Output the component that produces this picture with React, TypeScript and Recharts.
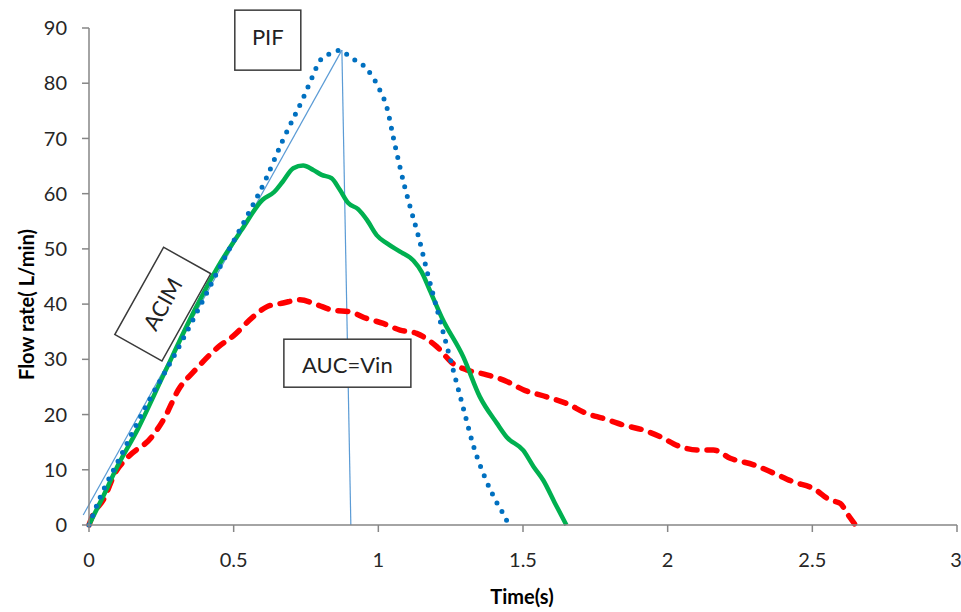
import { LineChart, Line, XAxis, YAxis, ReferenceLine, ReferenceDot } from "recharts";

// blue dotted curve
const blueT = [0, 0.04, 0.1, 0.2, 0.3, 0.4, 0.47, 0.54, 0.61, 0.67, 0.74, 0.77, 0.8, 0.84, 0.87, 0.9, 0.96, 1.0, 1.03, 1.055, 1.09, 1.11, 1.14, 1.17, 1.21, 1.25, 1.29, 1.33, 1.37, 1.41, 1.44, 1.45];
const blueFlow = [0, 5.2, 11.5, 21.8, 31.2, 41.3, 48.5, 55.3, 62.5, 69.7, 77.3, 80.9, 84.2, 85.5, 86, 84.8, 82.6, 79.3, 75.5, 69.4, 61.5, 57.6, 52, 45.6, 37.7, 29.8, 21.9, 14.1, 8.4, 4, 1.2, 0];

// green solid curve
const greenT = [0, 0.05, 0.1, 0.17, 0.256, 0.366, 0.446, 0.527, 0.6, 0.64, 0.67, 0.706, 0.74, 0.775, 0.804, 0.838, 0.867, 0.896, 0.93, 0.96, 0.994, 1.03, 1.075, 1.121, 1.15, 1.178, 1.22, 1.294, 1.351, 1.41, 1.444, 1.501, 1.536, 1.57, 1.61, 1.65];
const greenFlow = [0, 5.3, 10.8, 17.5, 27, 39, 46.8, 53.4, 58.9, 60.3, 62.2, 64.6, 65.1, 64.3, 63.4, 62.8, 60.7, 58.3, 57.2, 55.3, 52.5, 51, 49.5, 47.9, 45.8, 42.5, 37.5, 30.4, 23.2, 18.4, 15.9, 13.5, 10.6, 8.1, 4, 0];

// red dashed curve
const redT = [0, 0.01, 0.054, 0.089, 0.135, 0.216, 0.262, 0.308, 0.366, 0.446, 0.5, 0.567, 0.614, 0.671, 0.729, 0.787, 0.844, 0.902, 0.96, 1.017, 1.075, 1.132, 1.202, 1.259, 1.305, 1.375, 1.444, 1.501, 1.582, 1.651, 1.72, 1.778, 1.847, 1.916, 1.974, 2.043, 2.101, 2.158, 2.216, 2.297, 2.366, 2.435, 2.504, 2.562, 2.597, 2.62, 2.649];
const redFlow = [0, 1.4, 5, 9.3, 12.3, 15.9, 19.5, 24.4, 28, 32.2, 34.3, 37.7, 39.5, 40.2, 40.8, 39.9, 38.9, 38.6, 37.4, 36.5, 35.3, 34.7, 32.3, 29.2, 28.1, 27.2, 26, 24.5, 23.2, 22, 20.2, 19.3, 18.1, 17.2, 16, 14.2, 13.6, 13.6, 12.1, 10.9, 9.4, 7.8, 6.6, 4.5, 3.9, 2.1, 0];

// thin construction lines (ACIM slope, PIF drop)
const guideT = [-0.02, 0.874, 0.905];
const guideFlow = [1.8, 86, 0];

const xTicks = [0, 0.5, 1, 1.5, 2, 2.5, 3];
const yTicks = [0, 10, 20, 30, 40, 50, 60, 70, 80, 90];

const notes = [
  { text: "PIF", t: 0.618, flow: 87.8, w: 66, h: 60, angle: 0, dy: -3 },
  { text: "ACIM", t: 0.255, flow: 40.0, w: 100, h: 54, angle: -60.8, dy: 0 },
  { text: "AUC=Vin", t: 0.893, flow: 29.3, w: 127, h: 48, angle: 0, dy: 2 },
];

const toRows = (ts: number[], vs: number[]) => ts.map((t, i) => ({ t, flow: vs[i] }));

const FONT = "Lato, 'Open Sans', sans-serif";
const AXIS = "#868686";

const noteBox = (n: (typeof notes)[number]) => (props: any) => {
  const { cx, cy } = props;
  return (
    <g transform={`translate(${cx},${cy}) rotate(${n.angle})`}>
      <rect x={-n.w / 2} y={-n.h / 2} width={n.w} height={n.h} fill="#fff" stroke="#3a3a3a" strokeWidth={1.5} />
      <text x={0} y={n.dy} dy="0.36em" textAnchor="middle" fontFamily={FONT} fontSize={22} fill="#222">
        {n.text}
      </text>
    </g>
  );
};

export default function App() {
  const blue = toRows(blueT, blueFlow);
  const green = toRows(greenT, greenFlow);
  const red = toRows(redT, redFlow);
  const guide = toRows(guideT, guideFlow);

  return (
    <div style={{ position: "absolute", left: 0, top: 0, background: "#fff" }}>
      <LineChart width={961} height={612} margin={{ top: 28, right: 4, bottom: 0, left: 0 }}>
        <XAxis
          dataKey="t"
          type="number"
          domain={[0, 3]}
          ticks={xTicks}
          height={87}
          stroke={AXIS}
          strokeWidth={1.5}
          tickSize={7}
          tickMargin={21}
          tick={{ fontFamily: FONT, fontSize: 20, fill: "#262626" }}
          label={{
            content: (p: any) => (
              <text x={p.viewBox.x + p.viewBox.width / 2 - 1} y={604} textAnchor="middle" fontFamily={FONT} fontSize={20} fontWeight={700} fill="#000">
                Time(s)
              </text>
            ),
          }}
        />
        <YAxis
          type="number"
          domain={[0, 90]}
          ticks={yTicks}
          width={89}
          stroke={AXIS}
          strokeWidth={1.5}
          tickSize={7}
          tickMargin={15}
          tick={{ fontFamily: FONT, fontSize: 20, fill: "#262626" }}
          label={{
            content: (p: any) => {
              const cy = p.viewBox.y + p.viewBox.height / 2 + 28;
              return (
                <text x={33.5} y={cy} transform={`rotate(-90 33.5 ${cy})`} textAnchor="middle" fontFamily={FONT} fontSize={20} fontWeight={700} fill="#000">
                  Flow rate( L/min)
                </text>
              );
            },
          }}
        />
        <ReferenceLine
          segment={[{ x: guide[0].t, y: guide[0].flow }, { x: guide[1].t, y: guide[1].flow }]}
          stroke="#5B9BD5"
          strokeWidth={1.2}
          ifOverflow="visible"
        />
        <ReferenceLine
          segment={[{ x: guide[1].t, y: guide[1].flow }, { x: guide[2].t, y: guide[2].flow }]}
          stroke="#5B9BD5"
          strokeWidth={1.2}
          ifOverflow="visible"
        />
        <Line
          data={red}
          dataKey="flow"
          type="monotone"
          stroke="#FF0000"
          strokeWidth={5.5}
          strokeDasharray="10 10"
          strokeLinecap="round"
          dot={false}
          activeDot={false}
          isAnimationActive={false}
        />
        <Line
          data={green}
          dataKey="flow"
          type="monotone"
          stroke="#00B050"
          strokeWidth={4.5}
          dot={false}
          activeDot={false}
          isAnimationActive={false}
        />
        <Line
          data={blue}
          dataKey="flow"
          type="monotone"
          stroke="#0070C0"
          strokeWidth={5}
          strokeDasharray="0 10"
          strokeLinecap="round"
          dot={false}
          activeDot={false}
          isAnimationActive={false}
        />
        {notes.map((n) => (
          <ReferenceDot key={n.text} x={n.t} y={n.flow} r={0} ifOverflow="visible" shape={noteBox(n)} />
        ))}
      </LineChart>
    </div>
  );
}
